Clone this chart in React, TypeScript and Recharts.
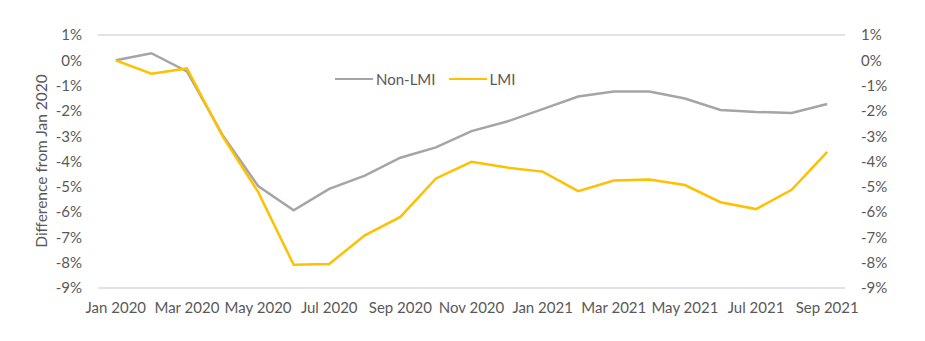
import React from 'react';
import { LineChart, Line, XAxis, YAxis, CartesianGrid, Legend } from 'recharts';

const months = [
  'Jan 2020', 'Feb 2020', 'Mar 2020', 'Apr 2020', 'May 2020', 'Jun 2020', 'Jul 2020',
  'Aug 2020', 'Sep 2020', 'Oct 2020', 'Nov 2020', 'Dec 2020', 'Jan 2021', 'Feb 2021',
  'Mar 2021', 'Apr 2021', 'May 2021', 'Jun 2021', 'Jul 2021', 'Aug 2021', 'Sep 2021',
];
const nonLmi = [
  0, 0.28, -0.44, -2.95, -4.97, -5.93, -5.08, -4.56, -3.85, -3.44, -2.8, -2.42, -1.93, -1.43,
  -1.23, -1.23, -1.51, -1.96, -2.04, -2.08, -1.73,
];
const lmi = [
  0, -0.53, -0.32, -3.0, -5.2, -8.08, -8.05, -6.92, -6.19, -4.67, -4.01, -4.24, -4.4, -5.17,
  -4.75, -4.71, -4.93, -5.61, -5.88, -5.12, -3.62,
];
const yTicks = [1, 0, -1, -2, -3, -4, -5, -6, -7, -8, -9];
const seriesOrder = ['Non-LMI', 'LMI'];

const data = months.map((m, i) => ({ month: m, nonLmi: nonLmi[i], lmi: lmi[i] }));

const FONT = "Lato, 'Open Sans', sans-serif";
const FS = 15;
const TEXT = '#595959';
const GRAY = '#A5A5A5';
const YELLOW = '#FFC000';

const fmt = (v: number) => `${v}%`;

const LegendContent = (props: any) => {
  const payload = [...(props.payload || [])].sort(
    (a: any, b: any) => seriesOrder.indexOf(a.value) - seriesOrder.indexOf(b.value)
  );
  return (
    <div style={{ display: 'flex', alignItems: 'center', fontFamily: FONT, fontSize: FS, color: TEXT, lineHeight: '20px' }}>
      {payload.map((p: any, i: number) => (
        <div key={i} style={{ display: 'flex', alignItems: 'center', marginRight: i === 0 ? 13 : 0 }}>
          <div style={{ width: 38, height: 0, borderTop: `2.5px solid ${p.color}`, marginRight: 3 }} />
          <span>{p.value}</span>
        </div>
      ))}
    </div>
  );
};

const YLabel = () => {
  const x = 41;
  const y = 161;
  return (
    <text
      x={x}
      y={y}
      transform={`rotate(-90, ${x}, ${y})`}
      textAnchor="middle"
      dominantBaseline="central"
      fill={TEXT}
      fontFamily={FONT}
      fontSize={FS + 0.5}
    >
      Difference from Jan 2020
    </text>
  );
};

export default function App() {
  return (
    <div style={{ position: 'absolute', left: 0, top: 0, width: 925, height: 341, background: '#fff' }}>
      <LineChart
        width={925}
        height={341}
        data={data}
        margin={{ top: 35, right: 20, bottom: 23, left: 38 }}
      >
        <CartesianGrid vertical={false} stroke="#D9D9D9" strokeWidth={1.3} />
        <XAxis
          dataKey="month"
          interval={1}
          axisLine={false}
          tickLine={false}
          tickSize={0}
          tickMargin={14}
          height={30}
          padding={{ left: 17.8, right: 17.8 }}
          tick={{ fill: TEXT, fontFamily: FONT, fontSize: FS }}
        />
        <YAxis
          yAxisId="left"
          domain={[-9, 1]}
          ticks={yTicks}
          tickFormatter={fmt}
          axisLine={false}
          tickLine={false}
          tickSize={0}
          tickMargin={16}
          width={60}
          tick={{ fill: TEXT, fontFamily: FONT, fontSize: FS }}
          label={<YLabel />}
        />
        <YAxis
          yAxisId="right"
          orientation="right"
          domain={[-9, 1]}
          ticks={yTicks}
          tickFormatter={fmt}
          axisLine={false}
          tickLine={false}
          tickSize={0}
          tickMargin={16}
          width={60}
          tick={{ fill: TEXT, fontFamily: FONT, fontSize: FS }}
        />
        <Legend
          layout="horizontal"
          verticalAlign="middle"
          align="center"
          content={<LegendContent />}
          wrapperStyle={{ position: 'absolute', left: 335, top: 69, width: 'auto', height: 'auto' }}
        />
        <Line
          yAxisId="left"
          type="linear"
          dataKey="nonLmi"
          name="Non-LMI"
          stroke={GRAY}
          strokeWidth={2.5}
          dot={false}
          isAnimationActive={false}
        />
        <Line
          yAxisId="right"
          type="linear"
          dataKey="lmi"
          name="LMI"
          stroke={YELLOW}
          strokeWidth={2.5}
          dot={false}
          isAnimationActive={false}
        />
      </LineChart>
    </div>
  );
}
